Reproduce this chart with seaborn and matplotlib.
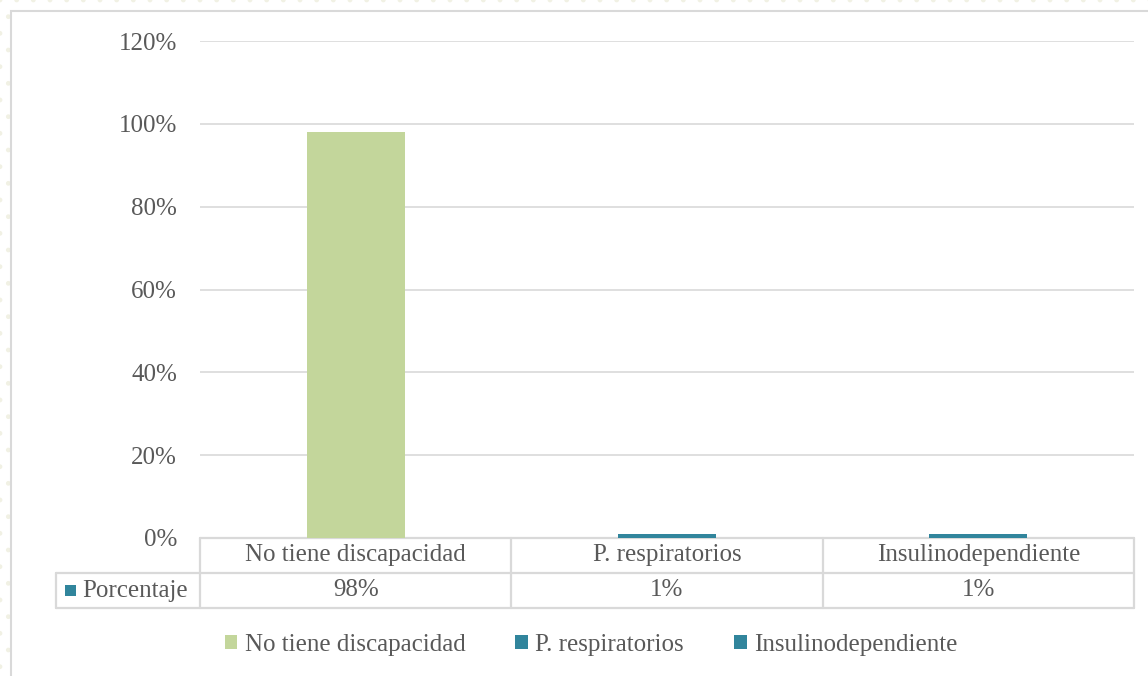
import matplotlib
matplotlib.use("Agg")
import matplotlib.pyplot as plt
import matplotlib.transforms as mtransforms
from matplotlib.patches import Rectangle
import pandas as pd
import seaborn as sns

# Data
categories = ["No tiene discapacidad", "P. respiratorios", "Insulinodependiente"]
values = [0.98, 0.01, 0.01]
value_labels = ["98%", "1%", "1%"]
series_name = "Porcentaje"
yticks = [0, 0.2, 0.4, 0.6, 0.8, 1.0, 1.2]
ytick_labels = ["0%", "20%", "40%", "60%", "80%", "100%", "120%"]
colors = ["#C3D69B", "#31859C", "#31859C"]

sns.set_theme(style="white")
plt.rcParams["font.family"] = ["Liberation Serif", "DejaVu Serif"]
TXT = "#595959"
GRID = "#D9D9D9"
FS = 18

W, H = 1148, 676
fig = plt.figure(figsize=(W / 100, H / 100), dpi=100)

# dotted page background and chart frame
bg = Rectangle((0, 0), 1, 1, transform=fig.transFigure, facecolor="white",
               edgecolor="#F1F1E4", hatch=".", linewidth=0, zorder=-10)
fig.add_artist(bg)
frame = Rectangle((11 / W, -0.01), 1.02, (H - 11) / H + 0.01, transform=fig.transFigure,
                  facecolor="white", edgecolor=GRID, linewidth=1.5, zorder=-9)
fig.add_artist(frame)

px_l, px_r, px_top, px_bot = 200, 1134, 41, 538
ax = fig.add_axes([px_l / W, (H - px_bot) / H, (px_r - px_l) / W, (px_bot - px_top) / H])
ax.set_facecolor("none")

df = pd.DataFrame({"cat": categories, "val": values})
sns.barplot(data=df, x="cat", y="val", hue="cat", palette=colors, order=categories,
            hue_order=categories, width=0.315, dodge=False, legend=False, ax=ax,
            saturation=1, linewidth=0, zorder=3)

ax.set_xlim(-0.5, len(categories) - 0.5)
ax.set_ylim(0, 1.2)
ax.set_yticks(yticks)
ax.set_yticklabels(ytick_labels, fontsize=FS, color=TXT)
ax.tick_params(axis="y", length=0, pad=16.5)
ax.set_xticks([])
ax.set_xlabel("")
ax.set_ylabel("")
for s in ax.spines.values():
    s.set_visible(False)
ax.yaxis.grid(True, color=GRID, linewidth=1.2, zorder=0)
ax.set_axisbelow(True)

# data table under the plot
trans = mtransforms.blended_transform_factory(ax.transData, ax.transAxes)
ah = px_bot - px_top
row = 35 / ah
lw = 1.6
y0, y1, y2 = 0, -row, -2 * row
left_x = mtransforms.blended_transform_factory(fig.transFigure, ax.transAxes)
n = len(categories)
ax.plot([-0.5, n - 0.5], [y0, y0], transform=trans, color=GRID, lw=lw, clip_on=False, zorder=2)
for yy in (y1, y2):
    ax.plot([56 / W, px_r / W], [yy, yy], transform=left_x, color=GRID, lw=lw, clip_on=False)
for i in range(n + 1):
    ax.plot([i - 0.5, i - 0.5], [y0, y2], transform=trans, color=GRID, lw=lw, clip_on=False)
ax.plot([56 / W, 56 / W], [y1, y2], transform=left_x, color=GRID, lw=lw, clip_on=False)

for i, (c, v) in enumerate(zip(categories, value_labels)):
    ax.text(i, (y0 + y1) / 2, c, transform=trans, ha="center", va="center",
            fontsize=FS, color=TXT)
    ax.text(i, (y1 + y2) / 2, v, transform=trans, ha="center", va="center",
            fontsize=FS, color=TXT)

# series key in the table
ax.add_patch(Rectangle((65 / W, (y1 + y2) / 2 - 5.5 / ah), 11 / W, 11 / ah, transform=left_x,
                       facecolor="#31859C", edgecolor="none", clip_on=False))
ax.text(82 / W, (y1 + y2) / 2, series_name, transform=left_x, ha="left", va="center",
        fontsize=FS, color=TXT)

# legend
handles = [Rectangle((0, 0), 1, 1, facecolor=c, edgecolor="none") for c in colors]
leg = fig.legend(handles, categories, loc="center", bbox_to_anchor=(591 / W, (H - 645) / H),
                 ncol=3, frameon=False, fontsize=FS, handlelength=0.5, handleheight=0.5,
                 handletextpad=0.3, columnspacing=2.0)
for t in leg.get_texts():
    t.set_color(TXT)

fig.savefig("out.png", dpi=100)
